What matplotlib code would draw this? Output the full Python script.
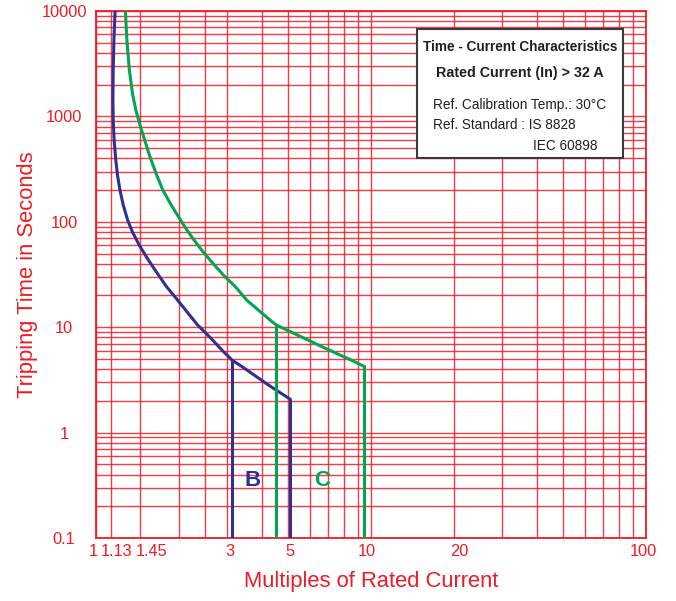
import numpy as np
import matplotlib
matplotlib.use('Agg')
import matplotlib.pyplot as plt
from matplotlib import font_manager
from matplotlib.patches import Rectangle
from matplotlib.ticker import FixedLocator, FixedFormatter, LogLocator, NullFormatter

# Font: condensed sans if available
names = {f.name for f in font_manager.fontManager.ttflist}
if 'Liberation Sans Narrow' in names:
    FONT = 'Liberation Sans Narrow'
    SCALE = 1.15
else:
    FONT = 'Liberation Sans'
    SCALE = 1.0
plt.rcParams['font.family'] = [FONT, 'DejaVu Sans']

RED = '#ed1c24'
NAVY = '#2e3192'
GREEN = '#00a651'
DARK = '#231f20'

# B curve (multiples of In, seconds)
b_mult = [1.173, 1.162, 1.155, 1.152, 1.155, 1.164, 1.180, 1.197, 1.222, 1.256,
          1.303, 1.357, 1.436, 1.533, 1.658, 1.808, 1.980, 2.161, 2.341, 2.612,
          2.868, 3.123, 3.431, 3.805, 4.187, 4.608, 5.075]
b_time = [10000, 5308, 2755, 1431, 924.5, 597.2, 385.8, 278, 200.3, 144.3,
          104.0, 80.0, 60.2, 45.4, 33.4, 24.1, 18.1, 13.6, 10.5, 7.90,
          6.08, 4.88, 4.15, 3.44, 2.89, 2.45, 2.08]
b_knee = 21  # start of the instantaneous trip band

# C curve
c_mult = [1.279, 1.295, 1.322, 1.360, 1.396, 1.445, 1.503, 1.572, 1.651, 1.749,
          1.877, 1.997, 2.117, 2.244, 2.421, 2.634, 2.904, 3.218, 3.530, 3.973,
          4.335, 4.528, 5.075, 5.793, 6.619, 7.571, 8.514, 9.448]
c_time = [10000, 5308, 2755, 1596, 1150, 828.6, 597.2, 412, 290.4, 200.3,
          144.3, 111.1, 87.3, 70.2, 54.0, 41.6, 31.3, 24.1, 18.1, 13.9,
          11.45, 10.5, 9.10, 7.73, 6.55, 5.57, 4.85, 4.24]
c_knee = 21

x_ticks = [1, 1.13, 1.45, 3, 5, 10, 20, 100]
x_tick_labels = ['1', '1.13', '1.45', '3', '5', '10', '20', '100']
x_label_shift = [-3, 6, 11, 3, 2, -4, 6, -3]  # px nudges of labels
x_grid = [1, 1.13, 1.45, 2, 2.5, 3, 4, 5, 6, 7, 8, 9, 10,
          20, 30, 40, 50, 60, 70, 80, 90, 100]
y_ticks = [0.1, 1, 10, 100, 1000, 10000]
y_tick_labels = ['0.1', '1', '10', '100', '1000', '10000']

box_lines = ['Ref. Calibration Temp.: 30°C', 'Ref. Standard : IS 8828']

fig = plt.figure(figsize=(6.76, 6.01), dpi=100)
ax = fig.add_axes([96 / 676, 63 / 601, 550 / 676, 527 / 601])
ax.set_xscale('log')
ax.set_yscale('log')
ax.set_xlim(1, 100)
ax.set_ylim(0.1, 10000)

# grid
ax.xaxis.set_major_locator(FixedLocator(x_grid))
ax.xaxis.set_major_formatter(NullFormatter())
ax.xaxis.set_minor_locator(FixedLocator([]))
ax.yaxis.set_major_locator(FixedLocator(y_ticks))
ax.yaxis.set_major_formatter(FixedFormatter(y_tick_labels))
ax.yaxis.set_minor_locator(LogLocator(base=10, subs=np.arange(2, 10)))
ax.yaxis.set_minor_formatter(NullFormatter())
ax.grid(True, which='both', color=RED, linewidth=1.0, alpha=0.85)
ax.tick_params(which='both', length=0)
ax.tick_params(axis='y', pad=23, labelsize=11.8 * SCALE, labelcolor=RED)
for lab in ax.get_yticklabels():
    lab.set_horizontalalignment('center')
for s in ax.spines.values():
    s.set_color(RED)
    s.set_linewidth(1.3)

# x tick labels
for v, t, dx in zip(x_ticks, x_tick_labels, x_label_shift):
    ax.annotate(t, xy=(v, 0), xycoords=ax.get_xaxis_transform(),
                xytext=(dx * 0.72, -4), textcoords='offset points',
                ha='center', va='top', color=RED, fontsize=11.8 * SCALE)

# curves
ax.plot(b_mult, b_time, color=NAVY, lw=2.2, zorder=5)
ax.plot(c_mult, c_time, color=GREEN, lw=2.2, zorder=5)
ax.vlines([b_mult[b_knee], b_mult[-1]], 0.1, [b_time[b_knee], b_time[-1]],
          color=NAVY, lw=2.2, zorder=5)
ax.vlines([c_mult[c_knee], c_mult[-1]], 0.1, [c_time[c_knee], c_time[-1]],
          color=GREEN, lw=2.2, zorder=5)

ax.text(3.707, 0.355, 'B', color=NAVY, fontsize=16 * SCALE, fontweight='bold',
        ha='center', va='center', zorder=6)
ax.text(6.619, 0.355, 'C', color=GREEN, fontsize=16 * SCALE, fontweight='bold',
        ha='center', va='center', zorder=6)

ax.set_xlabel('Multiples of Rated Current', color=RED, fontsize=15.8 * SCALE)
ax.set_ylabel('Tripping Time in Seconds', color=RED, fontsize=15.8 * SCALE)
ax.xaxis.set_label_coords(0.5, -0.063)
ax.yaxis.set_label_coords(-0.105, 0.5)

# info box
box = Rectangle((0.5836, 0.7211), 0.3746, 0.2447, transform=ax.transAxes,
                facecolor='white', edgecolor='#3a3a3a', lw=1.5, zorder=7)
ax.add_patch(box)
ax.text(0.7709, 0.932, 'Time - Current Characteristics', transform=ax.transAxes,
        ha='center', va='center', fontsize=9.8 * SCALE, fontweight='bold',
        color=DARK, zorder=8)
ax.text(0.7709, 0.883, 'Rated Current (In) > 32 A', transform=ax.transAxes,
        ha='center', va='center', fontsize=10.3 * SCALE, fontweight='bold',
        color=DARK, zorder=8)
ax.text(0.6127, 0.822, box_lines[0], transform=ax.transAxes, ha='left',
        va='center', fontsize=9.8 * SCALE, color=DARK, zorder=8)
ax.text(0.6127, 0.784, box_lines[1], transform=ax.transAxes, ha='left',
        va='center', fontsize=9.8 * SCALE, color=DARK, zorder=8)
ax.text(0.7945, 0.744, 'IEC 60898', transform=ax.transAxes, ha='left',
        va='center', fontsize=9.8 * SCALE, color=DARK, zorder=8)

fig.savefig('out.png', dpi=100)
